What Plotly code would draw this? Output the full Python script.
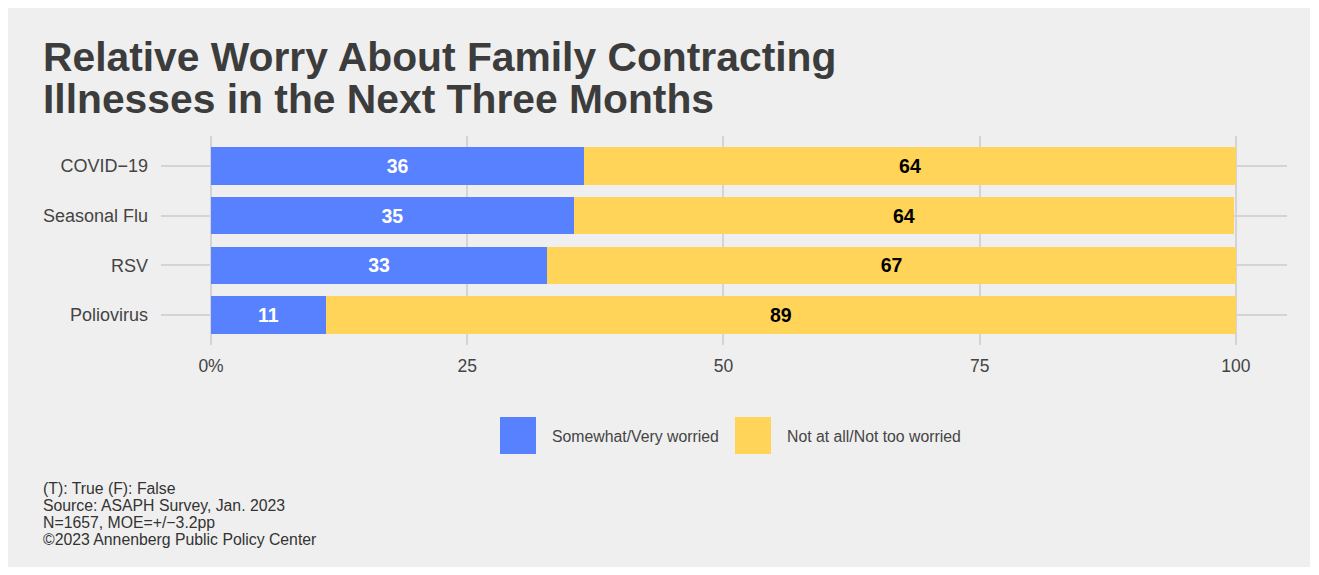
import plotly.graph_objects as go

# ---------------- data ----------------
categories = ["COVID−19", "Seasonal Flu", "RSV", "Poliovirus"]
worried = [36.4, 35.4, 32.8, 11.2]
not_worried = [63.6, 64.4, 67.2, 88.8]
series_names = ["Somewhat/Very worried", "Not at all/Not too worried"]
series_colors = ["#5781FE", "#FFD459"]
label_colors = ["#FFFFFF", "#000000"]
x_tickvals = [0, 25, 50, 75, 100]
x_ticktext = ["0%", "25", "50", "75", "100"]
title_lines = ["Relative Worry About Family Contracting",
               "Illnesses in the Next Three Months"]
caption_lines = ["(T): True (F): False",
                 "Source: ASAPH Survey, Jan. 2023",
                 "N=1657, MOE=+/−3.2pp",
                 "©2023 Annenberg Public Policy Center"]

# ---------------- layout geometry ----------------
# the page body adds an 8px offset; figure covers the grey panel
OFF = 8
W, H = 1302, 559
L, R, T, B = 153, 23, 128, 222
PW, PH = W - L - R, H - T - B
FONT = "Liberation Sans, Arial, Helvetica, sans-serif"


def fx(px):
    return (px - OFF - L) / PW


def fy(py):
    return (H - B - (py - OFF)) / PH


fig = go.Figure()
for name, vals, col, lcol in zip(series_names, [worried, not_worried],
                                 series_colors, label_colors):
    fig.add_trace(go.Bar(
        y=categories, x=vals, orientation="h", name=name,
        marker=dict(color=col, line=dict(width=0)),
        text=[f"{v:.0f}" for v in vals],
        textposition="inside", insidetextanchor="middle", textangle=0,
        textfont=dict(family=FONT, size=19.5, color=lcol, weight="bold"),
        hoverinfo="skip", showlegend=False,
    ))

shapes = []
annotations = []

# title lines
for i, line in enumerate(title_lines):
    annotations.append(dict(
        text=line, xref="paper", yref="paper", x=fx(41), y=fy(57 + 42 * i),
        xanchor="left", yanchor="middle", showarrow=False,
        font=dict(family=FONT, size=40.8, color="#3C3C3C", weight="bold")))

# caption lines
for i, line in enumerate(caption_lines):
    annotations.append(dict(
        text=line, xref="paper", yref="paper", x=fx(41), y=fy(488 + 17.3 * i),
        xanchor="left", yanchor="middle", showarrow=False,
        font=dict(family=FONT, size=15.8, color="#333333")))

# custom legend
legend_keys = [(500, 536, 550), (735, 771, 785)]
for (k0, k1, tx), name, col in zip(legend_keys, series_names, series_colors):
    shapes.append(dict(type="rect", xref="paper", yref="paper",
                       x0=fx(k0), x1=fx(k1), y0=fy(454), y1=fy(417),
                       fillcolor=col, line=dict(width=0)))
    annotations.append(dict(
        text=name, xref="paper", yref="paper", x=fx(tx), y=fy(436),
        xanchor="left", yanchor="middle", showarrow=False,
        font=dict(family=FONT, size=15.8, color="#444444")))

fig.update_layout(
    width=W, height=H,
    margin=dict(l=L, r=R, t=T, b=B, pad=0),
    paper_bgcolor="#EFEFEF", plot_bgcolor="#EFEFEF",
    barmode="stack", bargap=0.25,
    showlegend=False,
    shapes=shapes, annotations=annotations,
    xaxis=dict(range=[-4.88, 104.98], tickvals=x_tickvals, ticktext=x_ticktext,
               showgrid=True, gridcolor="#D4D4D4", gridwidth=2,
               zeroline=False, showline=False, ticks="",
               ticklabelstandoff=8,
               tickfont=dict(family=FONT, size=17.5, color="#444444")),
    yaxis=dict(range=[3.6, -0.6], showgrid=True, gridcolor="#D4D4D4",
               gridwidth=2, zeroline=False, showline=False, ticks="",
               ticklabelstandoff=12,
               tickfont=dict(family=FONT, size=18, color="#444444")),
)

fig.write_html("out.html")
